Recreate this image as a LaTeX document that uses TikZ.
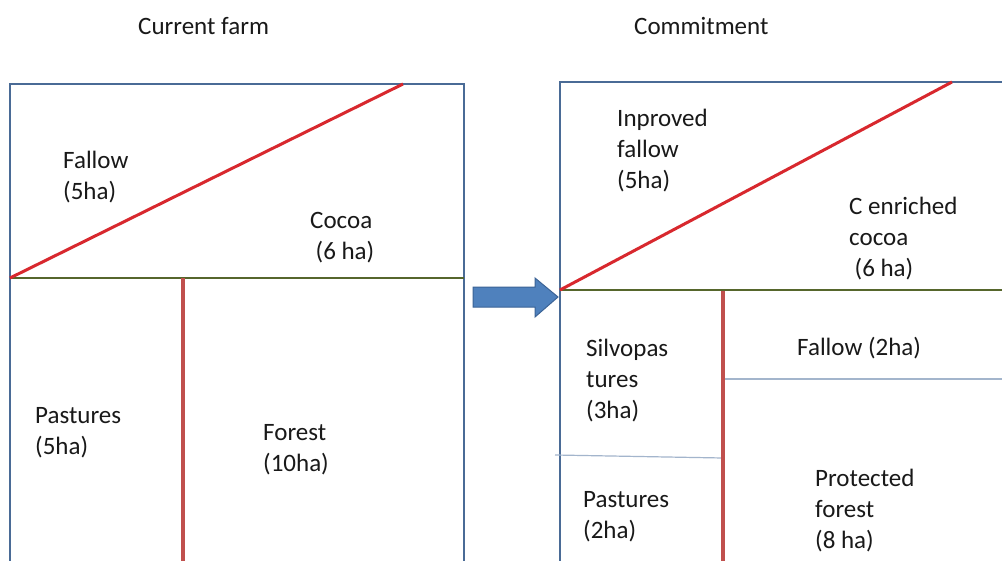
\documentclass[tikz,border=0pt]{standalone}
\usepackage{fontspec}
\setmainfont{Carlito}
\definecolor{boxblue}{HTML}{4A6B96}
\definecolor{thinblue}{HTML}{A3B5CC}
\definecolor{diagred}{HTML}{D8282E}
\definecolor{vertred}{HTML}{C0504D}
\definecolor{olive}{HTML}{56662C}
\definecolor{arrowfill}{HTML}{4F81BD}
\definecolor{arrowline}{HTML}{3B6396}
\tikzset{
  lbl/.style={anchor=west, align=left, inner sep=0pt, font=\fontsize{25}{31}\selectfont, text=black!90},
  ttl/.style={anchor=west, inner sep=0pt, font=\fontsize{25}{31}\selectfont, text=black!90},
  border/.style={draw=boxblue, line width=2pt},
  diag/.style={draw=diagred, line width=3pt},
  vert/.style={draw=vertred, line width=3.2pt},
  greenline/.style={draw=olive, line width=2.5pt},
  thin/.style={draw=thinblue, line width=1.2pt},
  blockarrow/.style={fill=arrowfill, draw=arrowline, line width=1pt}
}
\begin{document}
\begin{tikzpicture}[x=1pt, y=-1pt]
\clip (0,0) rectangle (1002,560);
\fill[white] (0,0) rectangle (1002,560);
% titles
\node[ttl] (t1) at (138,26) {Current farm};
\node[ttl] (t2) at (634,26) {Commitment};
% left box
\coordinate (L1) at (10,84);
\coordinate (L2) at (464,600);
\draw[border] (L1) rectangle (L2);
\coordinate (LgA) at (10,278);
\coordinate (LgB) at (464,278);
\draw[greenline] (LgA) -- (LgB);
\coordinate (LdB) at (403,84);
\draw[diag] (LgA) -- (LdB);
\coordinate (LvA) at (183,278);
\coordinate (LvB) at (183,600);
\draw[vert] (LvA) -- (LvB);
% right box
\coordinate (R1) at (560,82);
\coordinate (R2) at (1100,600);
\draw[border] (R1) rectangle (R2);
\coordinate (RgA) at (560,290);
\coordinate (RgB) at (1100,290);
\draw[greenline] (RgA) -- (RgB);
\coordinate (RdB) at (952,82);
\draw[diag] (RgA) -- (RdB);
\coordinate (RhA) at (723,379);
\coordinate (RhB) at (1100,379);
\draw[thin] (RhA) -- (RhB);
\coordinate (RlA) at (555,455);
\coordinate (RlB) at (723,458);
\draw[thin] (RlA) -- (RlB);
\coordinate (RvA) at (723,291);
\coordinate (RvB) at (723,600);
\draw[vert] (RvA) -- (RvB);
% arrow
\draw[blockarrow] (473,287) -- (535,287) -- (535,278) -- (558,297) -- (535,317) -- (535,307) -- (473,307) -- cycle;
% labels left
\node[lbl] (fallow) at (63,177) {Fallow\\(5ha)};
\node[lbl] (cocoa) at (310,238) {Cocoa\\\hspace*{0.22em}(6 ha)};
\node[lbl] (past) at (35,433) {Pastures\\(5ha)};
\node[lbl] (forest) at (263,450) {Forest\\(10ha)};
% labels right
\node[lbl] (impf) at (617,151) {Inproved\\fallow\\(5ha)};
\node[lbl] (cenr) at (849,239) {C enriched\\cocoa\\\hspace*{0.22em}(6 ha)};
\node[lbl] (silvo) at (586,381) {Silvopas\\tures\\(3ha)};
\node[lbl] (fal2) at (797,348) {Fallow (2ha)};
\node[lbl] (past2) at (583,517) {Pastures\\(2ha)};
\node[lbl] (prot) at (815,511) {Protected\\forest\\(8 ha)};
\end{tikzpicture}
\end{document}
